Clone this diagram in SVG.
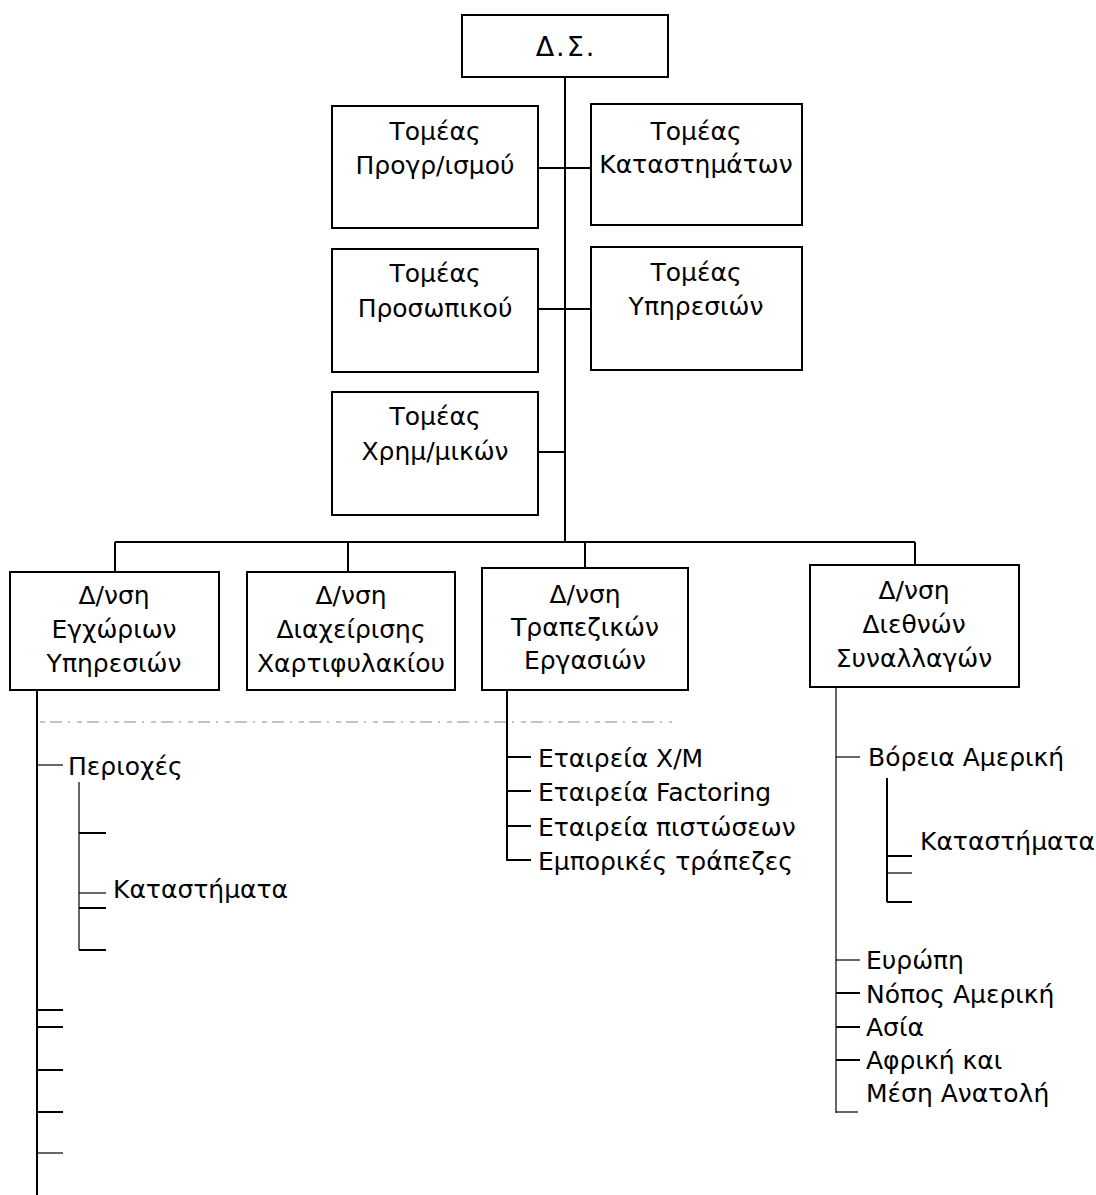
<svg xmlns="http://www.w3.org/2000/svg" width="1096" height="1195" viewBox="0 0 1096 1195">
<style>
  .box { fill: #ffffff; stroke: #000000; stroke-width: 2; }
  .ln { stroke: #000000; stroke-width: 2; fill: none; }
  .thin { stroke: #000000; stroke-width: 1.2; fill: none; }
  .faint { stroke: #888888; stroke-width: 1; stroke-dasharray: 5 5 12 6 2 7; fill: none; }
  text { font-family: "DejaVu Sans", "Liberation Sans", sans-serif; font-size: 25px; fill: #000000; }
  .c { text-anchor: middle; }
  .big { font-size: 27px; letter-spacing: 2px; }
</style>
<rect width="1096" height="1195" fill="#ffffff"/>

<g id="connectors">
  <line class="ln" x1="565" y1="77" x2="565" y2="542"/>
  <line class="ln" x1="538" y1="168" x2="591" y2="168"/>
  <line class="ln" x1="538" y1="309" x2="591" y2="309"/>
  <line class="ln" x1="538" y1="452" x2="565" y2="452"/>
  <line class="ln" x1="115" y1="542" x2="915" y2="542"/>
  <line class="ln" x1="115" y1="542" x2="115" y2="572"/>
  <line class="ln" x1="348" y1="542" x2="348" y2="572"/>
  <line class="ln" x1="585" y1="542" x2="585" y2="568"/>
  <line class="ln" x1="915" y1="542" x2="915" y2="565"/>

  <line class="faint" x1="40" y1="722" x2="672" y2="722"/>

  <!-- Εγχώριων branch -->
  <line class="ln" x1="37" y1="690" x2="37" y2="1195"/>
  <line class="thin" x1="37" y1="765" x2="63" y2="765"/>
  <line class="thin" x1="79" y1="782" x2="79" y2="950"/>
  <line class="ln" x1="79" y1="833" x2="106" y2="833"/>
  <line class="thin" x1="79" y1="893" x2="106" y2="893"/>
  <line class="ln" x1="79" y1="908" x2="106" y2="908"/>
  <line class="ln" x1="79" y1="950" x2="106" y2="950"/>
  <line class="ln" x1="37" y1="1010" x2="63" y2="1010"/>
  <line class="ln" x1="37" y1="1027" x2="63" y2="1027"/>
  <line class="ln" x1="37" y1="1070" x2="63" y2="1070"/>
  <line class="ln" x1="37" y1="1112" x2="63" y2="1112"/>
  <line class="thin" x1="37" y1="1153" x2="63" y2="1153"/>

  <!-- Τραπεζικών branch -->
  <line class="ln" x1="507" y1="690" x2="507" y2="861"/>
  <line class="ln" x1="507" y1="757" x2="531" y2="757"/>
  <line class="ln" x1="507" y1="791" x2="531" y2="791"/>
  <line class="ln" x1="507" y1="826" x2="531" y2="826"/>
  <line class="ln" x1="506" y1="860" x2="531" y2="860"/>

  <!-- Διεθνών branch -->
  <line class="thin" x1="836" y1="687" x2="836" y2="1113"/>
  <line class="thin" x1="836" y1="757" x2="860" y2="757"/>
  <line class="ln" x1="887" y1="778" x2="887" y2="902"/>
  <line class="ln" x1="887" y1="856" x2="912" y2="856"/>
  <line class="thin" x1="887" y1="873" x2="912" y2="873"/>
  <line class="ln" x1="887" y1="902" x2="912" y2="902"/>
  <line class="thin" x1="836" y1="960" x2="860" y2="960"/>
  <line class="ln" x1="836" y1="993" x2="860" y2="993"/>
  <line class="ln" x1="836" y1="1027" x2="860" y2="1027"/>
  <line class="ln" x1="836" y1="1060" x2="860" y2="1060"/>
  <line class="thin" x1="836" y1="1112" x2="858" y2="1112"/>
</g>

<g id="node-ds">
  <rect class="box" x="462" y="15" width="206" height="62"/>
  <text class="c big" x="566" y="56">Δ.Σ.</text>
</g>
<g id="node-programmatismou">
  <rect class="box" x="332" y="106" width="206" height="122"/>
  <text class="c" x="435" y="140">Τομέας</text>
  <text class="c" x="435" y="174">Προγρ/ισμού</text>
</g>
<g id="node-katastimaton">
  <rect class="box" x="591" y="104" width="211" height="121"/>
  <text class="c" x="696" y="140">Τομέας</text>
  <text class="c" x="696" y="173">Καταστημάτων</text>
</g>
<g id="node-prosopikou">
  <rect class="box" x="332" y="249" width="206" height="123"/>
  <text class="c" x="435" y="282">Τομέας</text>
  <text class="c" x="435" y="317">Προσωπικού</text>
</g>
<g id="node-ypiresion">
  <rect class="box" x="591" y="247" width="211" height="123"/>
  <text class="c" x="696" y="281">Τομέας</text>
  <text class="c" x="696" y="315">Υπηρεσιών</text>
</g>
<g id="node-xrimatooikonomikon">
  <rect class="box" x="332" y="392" width="206" height="123"/>
  <text class="c" x="435" y="425">Τομέας</text>
  <text class="c" x="435" y="460">Χρημ/μικών</text>
</g>

<g id="node-egxorion">
  <rect class="box" x="10" y="572" width="209" height="118"/>
  <text class="c" x="114" y="604">Δ/νση</text>
  <text class="c" x="114" y="638">Εγχώριων</text>
  <text class="c" x="114" y="672">Υπηρεσιών</text>
</g>
<g id="node-xartofylakiou">
  <rect class="box" x="247" y="572" width="208" height="118"/>
  <text class="c" x="351" y="604">Δ/νση</text>
  <text class="c" x="351" y="638">Διαχείρισης</text>
  <text class="c" x="351" y="672">Χαρτιφυλακίου</text>
</g>
<g id="node-trapezikon">
  <rect class="box" x="482" y="568" width="206" height="122"/>
  <text class="c" x="585" y="603">Δ/νση</text>
  <text class="c" x="585" y="636">Τραπεζικών</text>
  <text class="c" x="585" y="669">Εργασιών</text>
</g>
<g id="node-diethnon">
  <rect class="box" x="810" y="565" width="209" height="122"/>
  <text class="c" x="914" y="599">Δ/νση</text>
  <text class="c" x="914" y="633">Διεθνών</text>
  <text class="c" x="914" y="667">Συναλλαγών</text>
</g>

<g id="labels-egxorion">
  <text x="68" y="775">Περιοχές</text>
  <text x="113" y="898">Καταστήματα</text>
</g>
<g id="labels-trapezikon">
  <text x="538" y="767">Εταιρεία Χ/Μ</text>
  <text x="538" y="801">Εταιρεία Factoring</text>
  <text x="538" y="836">Εταιρεία πιστώσεων</text>
  <text x="538" y="870">Εμπορικές τράπεζες</text>
</g>
<g id="labels-diethnon">
  <text x="868" y="766">Βόρεια Αμερική</text>
  <text x="920" y="850">Καταστήματα</text>
  <text x="866" y="969">Ευρώπη</text>
  <text x="866" y="1003">Νόπος Αμερική</text>
  <text x="866" y="1036">Ασία</text>
  <text x="866" y="1069">Αφρική και</text>
  <text x="866" y="1102">Μέση Ανατολή</text>
</g>
</svg>
